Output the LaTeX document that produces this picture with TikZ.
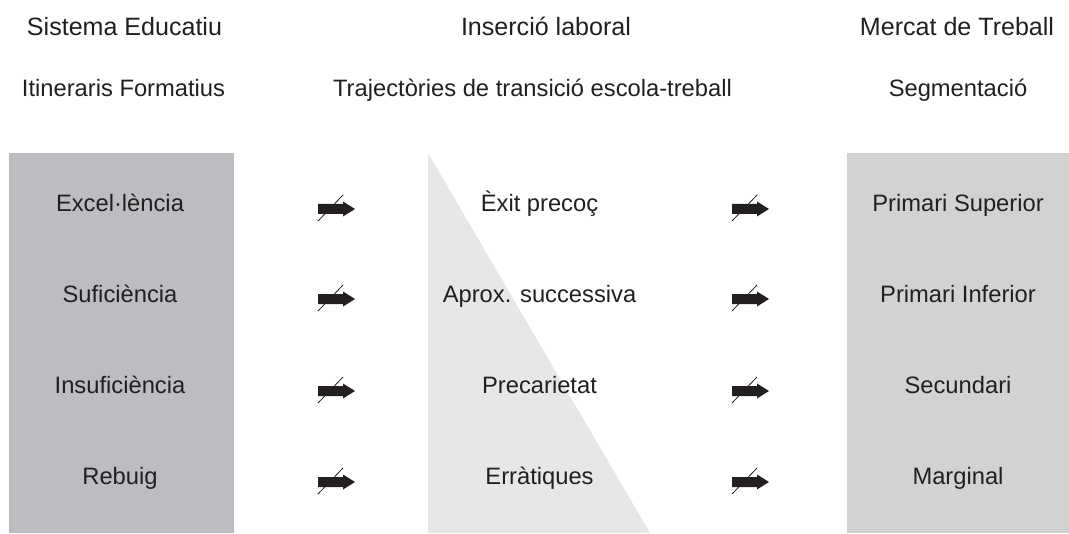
\documentclass[tikz,border=0pt]{standalone}
\usepackage{fontspec}
\setmainfont{Liberation Sans}
\usetikzlibrary{positioning}

\definecolor{edugray}{HTML}{BCBDC0}
\definecolor{mktgray}{HTML}{D1D2D4}
\definecolor{trigray}{HTML}{E6E7E8}
\definecolor{inkblack}{HTML}{231F20}

\begin{document}
\begin{tikzpicture}[
          x=0.75pt, y=-0.75pt,
          colbox/.style = {inner sep=0pt, minimum height=285pt},
          lbl/.style = {font=\fontsize{17.8}{21}\selectfont, text=inkblack, inner sep=0pt, anchor=base},
          hdr/.style = {lbl, font=\fontsize{18.8}{22}\selectfont},
          slasharrow/.pic = {
            \fill[inkblack] (0,-5) -- (25,-5) -- (25,-7.5) -- (37,0) -- (25,7.5) -- (25,5) -- (0,5) -- cycle;
            \draw[inkblack, line width=0.6pt] (0,12) -- (25,-14);
          }
         ]
        \useasboundingbox (0,0) rectangle (1069,534);

        % Columnes de fons
        \node[colbox, fill=edugray, minimum width=168.75pt] (edubox) at (121.5,343) {};
        \node[colbox, fill=mktgray, minimum width=166.5pt] (mktbox) at (958,343) {};
        \fill[trigray] (428,153) -- (428,533) -- (650,533) -- cycle;

        % Capçaleres
        \node[hdr] (edu) at (124.5,36) {Sistema Educatiu};
        \node[hdr] (ins) at (546,36) {Inserció laboral};
        \node[hdr] (mkt) at (957,36) {Mercat de Treball};
        \node[lbl] (itin) at (123.5,97) {Itineraris Formatius};
        \node[lbl] (traj) at (532.5,97) {Trajectòries de transició escola-treball};
        \node[lbl] (segm) at (958,97) {Segmentació};

        % Sistema Educatiu
        \node[lbl] (exc) at (120,212) {Excel·lència};
        \node[lbl, below=68pt of exc.base, anchor=base] (suf) {Suficiència};
        \node[lbl, below=68pt of suf.base, anchor=base] (insuf) {Insuficiència};
        \node[lbl, below=68pt of insuf.base, anchor=base] (reb) {Rebuig};

        % Inserció laboral
        \node[lbl] (exit) at (539.5,212) {Èxit precoç};
        \node[lbl, below=68pt of exit.base, anchor=base] (aprox) {Aprox. successiva};
        \node[lbl, below=68pt of aprox.base, anchor=base] (prec) {Precarietat};
        \node[lbl, below=68pt of prec.base, anchor=base] (errat) {Erràtiques};

        % Mercat de Treball
        \node[lbl] (psup) at (958,212) {Primari Superior};
        \node[lbl, below=68pt of psup.base, anchor=base] (pinf) {Primari Inferior};
        \node[lbl, below=68pt of pinf.base, anchor=base] (sec) {Secundari};
        \node[lbl, below=68pt of sec.base, anchor=base] (marg) {Marginal};

        % Fletxes
        \pic at (318,209) {slasharrow};
        \pic at (318,299) {slasharrow};
        \pic at (318,391) {slasharrow};
        \pic at (318,482) {slasharrow};
        \pic at (732,209) {slasharrow};
        \pic at (732,299) {slasharrow};
        \pic at (732,391) {slasharrow};
        \pic at (732,482) {slasharrow};

        \end{tikzpicture}
\end{document}
